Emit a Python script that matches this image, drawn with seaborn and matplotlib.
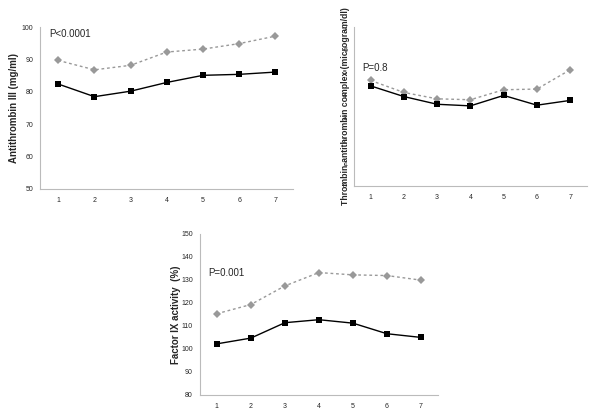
"""Three small line panels: antithrombin III, TAT complex and factor IX by visit."""
import pandas as pd
import matplotlib.pyplot as plt
import seaborn as sns

visits = [1, 2, 3, 4, 5, 6, 7]

at3_black = [82.4, 78.5, 80.2, 82.9, 85.1, 85.4, 86.1]
at3_gray = [89.7, 86.8, 88.2, 92.3, 93.2, 94.9, 97.2]

tat_black = [4.41, 3.94, 3.60, 3.53, 3.99, 3.56, 3.77]
tat_gray = [4.65, 4.12, 3.84, 3.80, 4.24, 4.27, 5.12]

f9_black = [102.2, 104.7, 111.4, 112.7, 111.2, 106.6, 105.0]
f9_gray = [115.3, 119.3, 127.4, 133.2, 132.2, 131.9, 129.9]

panels = [
    dict(black=at3_black, gray=at3_gray, ylim=(50, 100), yticks=range(50, 101, 10),
         ylabel="Antithrombin III (mg/ml)", ptext="P<0.0001", py=98,
         rect=[0.067, 0.547, 0.422, 0.388], labelpad=2, lsize=7),
    dict(black=tat_black, gray=tat_gray, ylim=(0, 7), yticks=range(0, 8),
         ylabel="Thrombin-antithrombin complex (microgram/dl)", ptext="P=0.8", py=5.2,
         rect=[0.59, 0.554, 0.388, 0.381], labelpad=-5, lsize=6.2),
    dict(black=f9_black, gray=f9_gray, ylim=(80, 150), yticks=range(80, 151, 10),
         ylabel="Factor IX activity  (%)", ptext="P=0.001", py=133,
         rect=[0.333, 0.053, 0.397, 0.386], labelpad=0, lsize=7),
]


def draw_panel(ax, p):
    df = pd.DataFrame({"visit": visits, "black": p["black"], "gray": p["gray"]})
    sns.lineplot(data=df, x="visit", y="gray", ax=ax, color="#999999",
                 linestyle=(0, (2, 2)), linewidth=1.0, marker="D",
                 markersize=4.5, markeredgewidth=0, markerfacecolor="#999999")
    sns.lineplot(data=df, x="visit", y="black", ax=ax, color="black",
                 linewidth=1.0, marker="s", markersize=5,
                 markeredgewidth=0, markerfacecolor="black")
    ax.set_xlim(0.5, 7.5)
    ax.set_ylim(*p["ylim"])
    ax.set_xticks(visits)
    ax.set_xticks([v + 0.5 for v in visits], minor=True)
    ax.set_yticks(list(p["yticks"]))
    ax.tick_params(axis="x", which="major", length=0, labelsize=5, pad=6)
    ax.tick_params(axis="x", which="minor", length=3, color="#bbbbbb")
    ax.tick_params(axis="y", length=3, color="#bbbbbb", labelsize=5, pad=2)
    for side in ["top", "right"]:
        ax.spines[side].set_visible(False)
    for side in ["left", "bottom"]:
        ax.spines[side].set_color("#bbbbbb")
        ax.spines[side].set_linewidth(0.8)
    ax.set_xlabel("")
    ax.set_ylabel(p["ylabel"], fontsize=p["lsize"], fontweight="bold",
                  labelpad=p["labelpad"])
    ax.text(0.75, p["py"], p["ptext"], fontsize=7, va="center")


def main():
    sns.set_style("white")
    plt.rcParams["font.family"] = ["Liberation Sans", "DejaVu Sans"]
    fig = plt.figure(figsize=(6, 4.17), dpi=100)
    for p in panels:
        ax = fig.add_axes(p["rect"])
        draw_panel(ax, p)
    fig.savefig("out.png", dpi=100)
    plt.close(fig)


if __name__ == "__main__":
    main()
